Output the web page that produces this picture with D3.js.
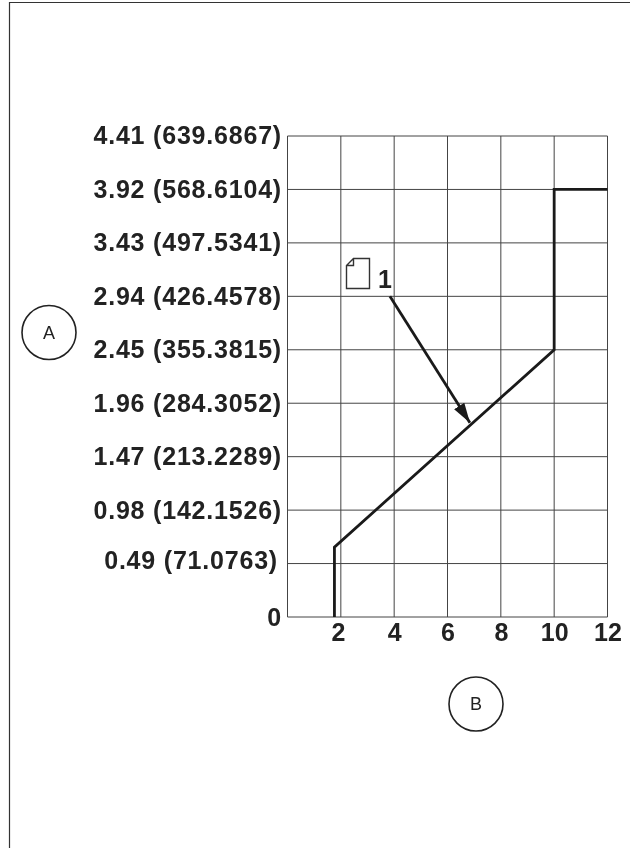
<!DOCTYPE html>
<html><head><meta charset="utf-8">
<script src="https://cdn.jsdelivr.net/npm/d3@7/dist/d3.min.js"></script>
<style>
html,body{margin:0;padding:0;background:#fff}
svg{display:block;filter:blur(0.35px)}
text{font-family:"Liberation Sans",Arial,sans-serif;fill:#222}
.tick-label{font-weight:700;font-size:25px}
.circle-label{font-size:18px;font-weight:400}
</style></head><body>
<svg id="c" width="630" height="848"></svg>
<script>
const yTicks=[0,0.49,0.98,1.47,1.96,2.45,2.94,3.43,3.92,4.41];
const yLabels=["0","0.49 (71.0763)","0.98 (142.1526)","1.47 (213.2289)","1.96 (284.3052)","2.45 (355.3815)","2.94 (426.4578)","3.43 (497.5341)","3.92 (568.6104)","4.41 (639.6867)"];
const xTicks=[2,4,6,8,10,12];
const curveX=[1.76,1.76,10,10,12];
const curveY=[0,0.64,2.45,3.92,3.92];
const arrowX=[3.84,6.84];
const arrowY=[2.94,1.78];

const svg=d3.select("#c");
const x=d3.scaleLinear().domain([0,12]).range([287.5,607.5]);
const y=d3.scaleLinear().domain([0,4.41]).range([617,136]);

// page frame
svg.append("path").attr("d","M9.5,848V2.5H630").attr("fill","none").attr("stroke","#333").attr("stroke-width",1.2);

const grid=svg.append("g").attr("stroke","#444").attr("stroke-width",1);
grid.selectAll("line.h").data(yTicks).join("line").attr("class","h")
  .attr("x1",x(0)).attr("x2",x(12)).attr("y1",d=>y(d)).attr("y2",d=>y(d));
grid.selectAll("line.v").data([0].concat(xTicks)).join("line").attr("class","v")
  .attr("x1",d=>x(d)).attr("x2",d=>x(d)).attr("y1",y(0)).attr("y2",y(4.41));

// axes (labels only: the grid draws the lines)
const yAxis=d3.axisLeft(y).tickValues(yTicks).tickSize(0).tickPadding(5.5)
  .tickFormat((d,i)=>yLabels[i]);
const gy=svg.append("g").attr("transform",`translate(${x(0)},0)`).call(yAxis);
gy.select(".domain").remove();
gy.selectAll("text").attr("class","tick-label").attr("font-size",null).attr("font-family",null).style("letter-spacing","0.8px");
gy.selectAll(".tick").filter(d=>d===0.49).select("text").attr("dx","-4").attr("dy","0.2em");
gy.selectAll(".tick").filter(d=>d===4.41).select("text").attr("dy","0.28em");

const xAxis=d3.axisBottom(x).tickValues(xTicks).tickSize(0).tickPadding(6).tickFormat(d3.format("d"));
const gx=svg.append("g").attr("transform",`translate(0,${y(0)})`).call(xAxis);
gx.select(".domain").remove();
gx.selectAll("text").attr("class","tick-label").attr("font-size",null).attr("font-family",null);
gx.selectAll(".tick").filter(d=>d===2).select("text").attr("dx","-3");

// curve
const line=d3.line().x(d=>x(d[0])).y(d=>y(d[1]));
svg.append("path").datum(d3.zip(curveX,curveY)).attr("d",line)
  .attr("fill","none").attr("stroke","#1a1a1a").attr("stroke-width",2.8).attr("stroke-linejoin","miter");

// callout arrow
svg.append("defs").append("marker").attr("id","ah").attr("markerUnits","userSpaceOnUse")
  .attr("viewBox","0 0 20 12").attr("refX",20).attr("refY",6).attr("markerWidth",20).attr("markerHeight",12).attr("orient","auto")
  .append("path").attr("d","M0,0L20,6L0,12Z").attr("fill","#1a1a1a");
svg.append("path").datum(d3.zip(arrowX,arrowY)).attr("d",line)
  .attr("fill","none").attr("stroke","#1a1a1a").attr("stroke-width",2.8).attr("marker-end","url(#ah)");

// note icon + callout number
const note=svg.append("g").attr("transform","translate(346.5,258.5)");
note.append("path").attr("d","M7,0H23V30H0V7ZM7,0V7H0").attr("fill","#fff").attr("stroke","#333").attr("stroke-width",1.4);
svg.append("text").attr("x",378).attr("y",288).attr("class","tick-label").text("1");

// circled labels
[["A",49,332.5],["B",476,704]].forEach(([t,cx,cy])=>{
  svg.append("circle").attr("cx",cx).attr("cy",cy).attr("r",27).attr("fill","#fff").attr("stroke","#222").attr("stroke-width",1.6);
  svg.append("text").attr("x",cx).attr("y",cy).attr("dy","0.36em").attr("text-anchor","middle").attr("class","circle-label").text(t);
});
</script>
</body></html>
